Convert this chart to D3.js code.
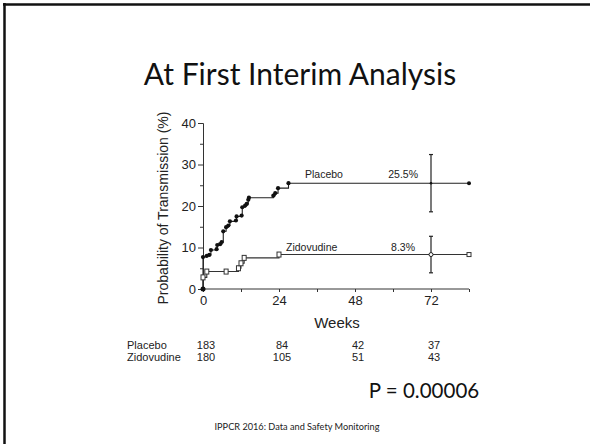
<!DOCTYPE html>
<html>
<head>
<meta charset="utf-8">
<script src="https://cdn.jsdelivr.net/npm/d3@7"></script>
<style>
  body { margin: 0; background: #fff; }
  svg { display: block; }
  .axis path, .axis line { stroke: #333; }
  .axis text { font-family: "Liberation Sans", Arial, sans-serif; font-size: 13px; fill: #222; }
</style>
</head>
<body>
<svg id="chart" width="590" height="444"></svg>
<script>
// values
var placeboWeeks = [0, 0, 1.2, 2, 2.5, 4.3, 4.5, 5.4, 5.9, 6.4, 7.3, 8, 8.5, 10.4, 10.6, 12.2, 12.4, 13.3, 13.8, 14.3, 14.5, 22.2, 22.8, 23.7, 27, 84];
var placeboPct   = [0, 7.7, 8.0, 8.2, 9.4, 9.6, 10.6, 10.8, 11.3, 13.9, 14.9, 15.3, 16.3, 16.5, 17.5, 17.7, 19.7, 20.1, 20.5, 21.5, 22.0, 22.5, 23.1, 24.3, 25.5, 25.5];
var zidoWeeks = [0, 0, 1.2, 7.3, 11.2, 12, 13, 24, 84];
var zidoPct   = [0, 2.8, 4.2, 4.2, 5.0, 6.2, 7.5, 8.3, 8.3];

var ciWeek = 72;
var placeboCI = [18.6, 32.4];
var zidoCI = [3.9, 12.7];
var placeboFinal = 25.5;
var zidoFinal = 8.3;

var yTicks = [0, 5, 10, 15, 20, 25, 30, 35, 40];
var xTicks = [0, 12, 24, 36, 48, 60, 72, 84];
var xLabels = [0, 24, 48, 72];

var riskWeeks = [0, 24, 48, 72];
var placeboAtRisk = [183, 84, 42, 37];
var zidoAtRisk = [180, 105, 51, 43];

var svg = d3.select('#chart');

// slide frame
svg.append('line').attr('x1', 3).attr('x2', 590).attr('y1', 4.5).attr('y2', 4.5)
  .attr('stroke', '#111').attr('stroke-width', 2.5);
svg.append('line').attr('x1', 4.5).attr('x2', 4.5).attr('y1', 3).attr('y2', 444)
  .attr('stroke', '#111').attr('stroke-width', 2.5);

svg.append('text')
  .attr('x', 300).attr('y', 85)
  .attr('text-anchor', 'middle')
  .attr('font-family', 'Lato, "Open Sans", sans-serif')
  .attr('font-size', 30)
  .attr('fill', '#111')
  .text('At First Interim Analysis');

var x = d3.scaleLinear().domain([0, 84]).range([203, 469]);
var y = d3.scaleLinear().domain([0, 40]).range([289, 123]);

var yAxis = svg.append('g').attr('class', 'axis')
  .attr('transform', 'translate(' + x(0) + ',0)')
  .call(d3.axisLeft(y).tickValues(yTicks).tickSize(4).tickPadding(3)
    .tickFormat(function(d) { return d % 10 === 0 ? d : ''; }));
yAxis.selectAll('.tick line').attr('x2', function(d) { return d % 10 === 0 ? -5 : -3; });

var xAxis = svg.append('g').attr('class', 'axis')
  .attr('transform', 'translate(0,' + y(0) + ')')
  .call(d3.axisBottom(x).tickValues(xTicks).tickSize(3).tickPadding(4)
    .tickFormat(function(d) { return xLabels.indexOf(d) >= 0 ? d : ''; }));
xAxis.select('.domain').attr('d', 'M' + x(0) + ',0H' + x(84));

svg.append('text')
  .attr('transform', 'translate(168,' + ((y(0) + y(40)) / 2 + 2) + ') rotate(-90)')
  .attr('text-anchor', 'middle')
  .attr('font-family', '"Liberation Sans", Arial, sans-serif')
  .attr('font-size', 14)
  .attr('fill', '#222')
  .text('Probability of Transmission (%)');

svg.append('text')
  .attr('x', 337).attr('y', 328)
  .attr('text-anchor', 'middle')
  .attr('font-family', '"Liberation Sans", Arial, sans-serif')
  .attr('font-size', 15)
  .attr('fill', '#222')
  .text('Weeks');

var step = d3.line()
  .x(function(d) { return x(d[0]); })
  .y(function(d) { return y(d[1]); })
  .curve(d3.curveStepAfter);

var placebo = placeboWeeks.map(function(w, i) { return [w, placeboPct[i]]; });
var zido = zidoWeeks.map(function(w, i) { return [w, zidoPct[i]]; });

svg.append('path').datum(placebo).attr('d', step)
  .attr('fill', 'none').attr('stroke', '#222').attr('stroke-width', 1.1);
svg.append('path').datum(zido).attr('d', step)
  .attr('fill', 'none').attr('stroke', '#333').attr('stroke-width', 1.1);

// confidence bars at 72 weeks
[placeboCI, zidoCI].forEach(function(ci) {
  var g = svg.append('g').attr('stroke', '#222').attr('stroke-width', 1.2);
  g.append('line').attr('x1', x(ciWeek)).attr('x2', x(ciWeek)).attr('y1', y(ci[0])).attr('y2', y(ci[1]));
  g.append('line').attr('x1', x(ciWeek) - 2).attr('x2', x(ciWeek) + 2).attr('y1', y(ci[0])).attr('y2', y(ci[0]));
  g.append('line').attr('x1', x(ciWeek) - 2).attr('x2', x(ciWeek) + 2).attr('y1', y(ci[1])).attr('y2', y(ci[1]));
});

// placebo event markers
svg.selectAll('.pmark').data(placebo.slice(0, placebo.length - 1)).enter()
  .append('circle').attr('class', 'pmark')
  .attr('cx', function(d) { return x(d[0]); })
  .attr('cy', function(d) { return y(d[1]); })
  .attr('r', 2.1).attr('fill', '#111');
svg.append('circle').attr('cx', x(84)).attr('cy', y(placeboFinal)).attr('r', 2).attr('fill', '#111');
svg.append('circle').attr('cx', x(ciWeek)).attr('cy', y(placeboFinal)).attr('r', 1.3).attr('fill', '#111');

// zidovudine markers
svg.selectAll('.zmark').data(zido.slice(1, zido.length - 1)).enter()
  .append('rect').attr('class', 'zmark')
  .attr('x', function(d) { return x(d[0]) - 2; })
  .attr('y', function(d) { return y(d[1]) - 2.5; })
  .attr('width', 4).attr('height', 5)
  .attr('fill', '#fff').attr('stroke', '#333').attr('stroke-width', 1);
svg.append('rect').attr('x', x(84) - 2).attr('y', y(zidoFinal) - 2).attr('width', 4).attr('height', 4)
  .attr('fill', '#fff').attr('stroke', '#333');
svg.append('circle').attr('cx', x(ciWeek)).attr('cy', y(zidoFinal)).attr('r', 2)
  .attr('fill', '#fff').attr('stroke', '#222');
svg.append('circle').attr('cx', x(0)).attr('cy', y(0)).attr('r', 2.5).attr('fill', '#111');

var lab = { 'font-family': '"Liberation Sans", Arial, sans-serif', 'font-size': 10.5, 'fill': '#222' };
function label(t, px, py, anchor) {
  var s = svg.append('text').attr('x', px).attr('y', py).attr('text-anchor', anchor || 'start').text(t);
  Object.keys(lab).forEach(function(k) { s.attr(k, lab[k]); });
  return s;
}
label('Placebo', 305, 178);
label(placeboFinal + '%', 418, 178, 'end');
label('Zidovudine', 286, 251);
label(zidoFinal + '%', 415, 251, 'end');

// numbers at risk
label('Placebo', 127, 349).attr('font-size', 11);
label('Zidovudine', 127, 361).attr('font-size', 11);
riskWeeks.forEach(function(w, i) {
  label(placeboAtRisk[i], x(w) + 3, 349, 'middle').attr('font-size', 11);
  label(zidoAtRisk[i], x(w) + 3, 361, 'middle').attr('font-size', 11);
});

svg.append('text')
  .attr('x', 424).attr('y', 398)
  .attr('text-anchor', 'middle')
  .attr('font-family', 'Lato, "Open Sans", sans-serif')
  .attr('font-size', 20.5)
  .attr('fill', '#111')
  .text('P = 0.00006');

svg.append('text')
  .attr('x', 297).attr('y', 430)
  .attr('text-anchor', 'middle')
  .attr('font-family', 'Lato, "Open Sans", sans-serif')
  .attr('font-size', 9.2)
  .attr('fill', '#222')
  .text('IPPCR 2016: Data and Safety Monitoring');
</script>
</body>
</html>
